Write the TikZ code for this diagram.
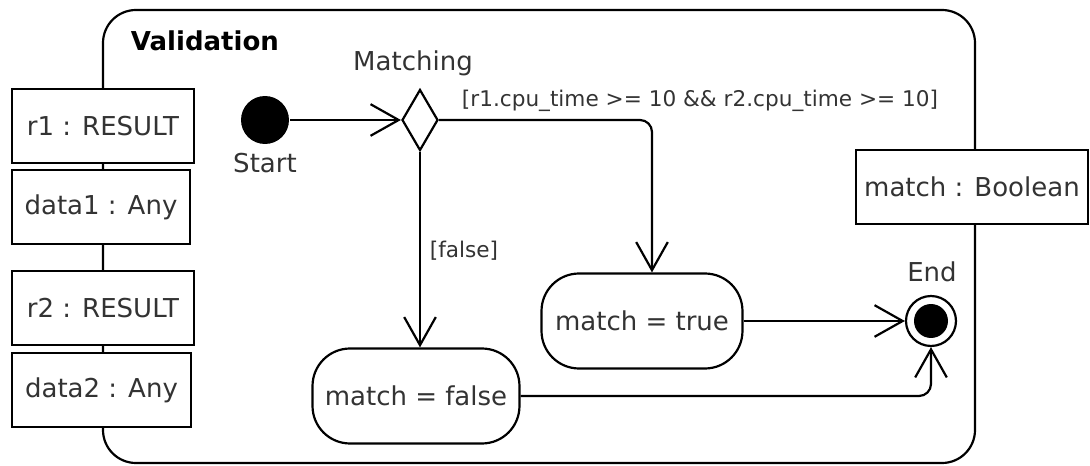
\documentclass[tikz,border=0pt]{standalone}
\usepackage{fontspec}
\setmainfont{DejaVu Sans}
\usetikzlibrary{positioning,shapes.geometric,arrows.meta}

\begin{document}
\begin{tikzpicture}[x=0.02cm,y=-0.02cm,
  line width=1.25pt,
  every node/.style={font=\fontsize{14.8}{17}\selectfont, text=black!80},
  obj/.style={draw, fill=white, rectangle, inner sep=0pt, minimum height=1.47cm},
  act/.style={draw, fill=white, rounded corners=0.75cm, minimum height=1.9cm},
  guard/.style={font=\fontsize{12.3}{14}\selectfont},
  flow/.style={-{Straight Barb[length=16pt,width=18pt]}},
]
\useasboundingbox (0,0) rectangle (1090,466);

% activity frame
\draw[rounded corners=0.66cm] (103,10) rectangle (975,463);
\node[anchor=west, font=\fontsize{14.8}{17}\selectfont\bfseries, text=black] (title) at (124,41) {Validation};

% parameter pins
\node[obj, minimum width=3.64cm] (r1) at (103,126) {r1 : RESULT};
\node[obj, minimum width=3.56cm] (data1) at (101,207) {data1 : Any};
\node[obj, minimum width=3.64cm] (r2) at (103,308) {r2 : RESULT};
\node[obj, minimum width=3.58cm] (data2) at (101.5,390) {data2 : Any};
\node[obj, minimum width=4.64cm] (res) at (972,187) {match : Boolean};

% control nodes
\node[circle, fill=black, minimum size=0.96cm, inner sep=0] (start) at (265,120) {};
\node (startlbl) at (265,163) {Start};
\node[diamond, draw, fill=white, minimum width=0.72cm, minimum height=1.22cm, inner sep=0] (dec) at (420,120) {};
\node (declbl) at (413,63) {Matching};
\node[circle, draw, fill=white, minimum size=1.0cm, inner sep=0] (end) at (931,321) {};
\fill (end) circle (0.34cm);
\node (endlbl) at (932,272) {End};

% actions
\node[act, minimum width=4.02cm] (mtrue) at (642,321) {match = true};
\node[act, minimum width=4.14cm] (mfalse) at (416,396) {match = false};

% flows
\draw[flow] (start) -- (dec.west);
\draw[flow, rounded corners=0.24cm] (dec.east) -| ([xshift=0.2cm]mtrue.north);
\node[guard] (gtrue) at (700,101) {[r1.cpu\_time >= 10 \&\& r2.cpu\_time >= 10]};
\draw[flow] (dec.south) -- (dec.south |- mfalse.north);
\node[guard] (gfalse) at (464,251) {[false]};
\draw[flow] (mtrue.east) -- (end.west);
\draw[flow, rounded corners=0.24cm] (mfalse.east) -| (end.south);

\end{tikzpicture}
\end{document}
